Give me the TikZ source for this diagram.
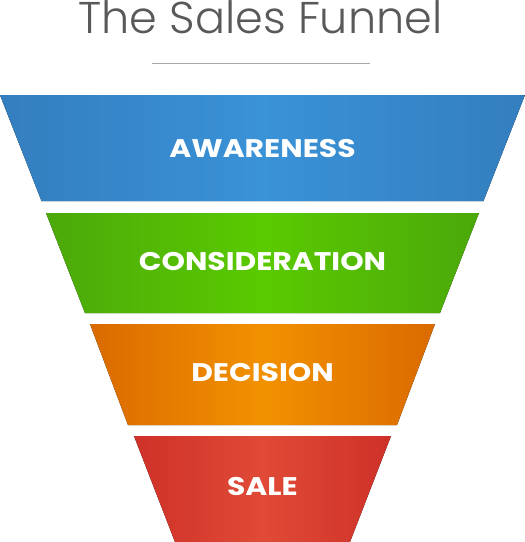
\documentclass[tikz,border=0pt]{standalone}
\usepackage{fontspec}
\newfontfamily\titlefont{Poppins Light}
\newfontfamily\labelfont{Poppins Bold}[FakeStretch=1.17]
\definecolor{titlegray}{HTML}{595959}
\definecolor{rulegray}{HTML}{A8A8A8}
\definecolor{blueedge}{HTML}{337EBE}
\definecolor{bluemid}{HTML}{3A92D7}
\definecolor{greenedge}{HTML}{4BA80A}
\definecolor{greenmid}{HTML}{5ACA00}
\definecolor{orangeedge}{HTML}{DA6A00}
\definecolor{orangemid}{HTML}{F29100}
\definecolor{rededge}{HTML}{CE3128}
\definecolor{redmid}{HTML}{E04A36}
\tikzset{
  stagelabel/.style={text=white, font=\labelfont\fontsize{25.5}{25.5}\selectfont, inner sep=0pt, anchor=center},
  band/.style n args={2}{left color=#1, right color=#1, middle color=#2}
}
\begin{document}
\begin{tikzpicture}[x=1pt,y=-1pt]
\useasboundingbox (0,0) rectangle (525,542);
\node[anchor=base, text=titlegray, font=\titlefont\fontsize{44.5}{44.5}\selectfont, inner sep=0pt] (title) at (260.5,33) {The Sales Funnel};
\coordinate (ruleL) at (152,63);
\coordinate (ruleR) at (370,63);
\draw[rulegray, line width=1pt] (ruleL) -- (ruleR);
\fill[band={blueedge}{bluemid}] (0,95) -- (525,95) -- (483.5,201) -- (41.5,201) -- cycle;
\fill[band={greenedge}{greenmid}] (46,213) -- (479,213) -- (440,313) -- (85,313) -- cycle;
\fill[band={orangeedge}{orangemid}] (90,324) -- (435,324) -- (397,425) -- (128,425) -- cycle;
\fill[band={rededge}{redmid}] (134,436) -- (391,436) -- (350,542) -- (175,542) -- cycle;
\node[stagelabel] (awareness) at (262.5,148.5) {AWARENESS};
\node[stagelabel] (consideration) at (262.5,262) {CONSIDERATION};
\node[stagelabel] (decision) at (262.5,373) {DECISION};
\node[stagelabel] (sale) at (262.5,487) {SALE};
\end{tikzpicture}
\end{document}
